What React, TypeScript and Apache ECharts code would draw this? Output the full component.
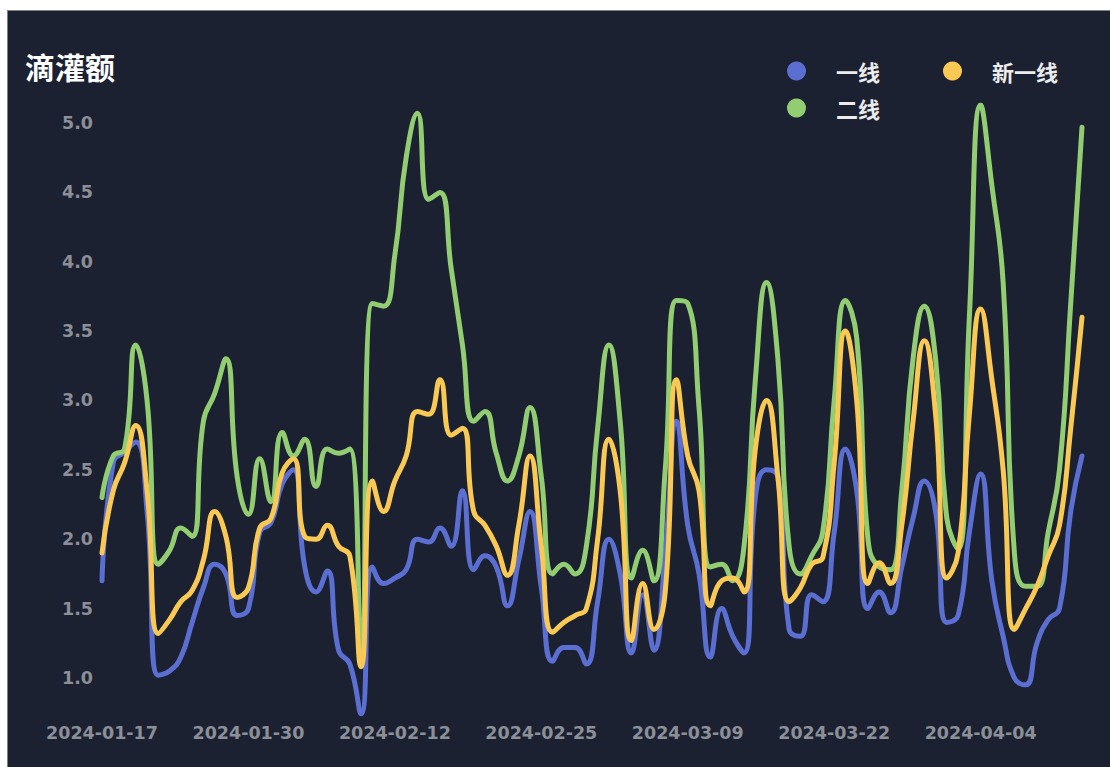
import React, { useEffect, useRef } from "react";
import * as echarts from "echarts";

const dates = [
  "2024-01-17", "2024-01-18", "2024-01-19", "2024-01-20", "2024-01-21", "2024-01-22", "2024-01-23",
  "2024-01-24", "2024-01-25", "2024-01-26", "2024-01-27", "2024-01-28", "2024-01-29", "2024-01-30",
  "2024-01-31", "2024-02-01", "2024-02-02", "2024-02-03", "2024-02-04", "2024-02-05", "2024-02-06",
  "2024-02-07", "2024-02-08", "2024-02-09", "2024-02-10", "2024-02-11", "2024-02-12", "2024-02-13",
  "2024-02-14", "2024-02-15", "2024-02-16", "2024-02-17", "2024-02-18", "2024-02-19", "2024-02-20",
  "2024-02-21", "2024-02-22", "2024-02-23", "2024-02-24", "2024-02-25", "2024-02-26", "2024-02-27",
  "2024-02-28", "2024-02-29", "2024-03-01", "2024-03-02", "2024-03-03", "2024-03-04", "2024-03-05",
  "2024-03-06", "2024-03-07", "2024-03-08", "2024-03-09", "2024-03-10", "2024-03-11", "2024-03-12",
  "2024-03-13", "2024-03-14", "2024-03-15", "2024-03-16", "2024-03-17", "2024-03-18", "2024-03-19",
  "2024-03-20", "2024-03-21", "2024-03-22", "2024-03-23", "2024-03-24", "2024-03-25", "2024-03-26",
  "2024-03-27", "2024-03-28", "2024-03-29", "2024-03-30", "2024-03-31", "2024-04-01", "2024-04-02",
  "2024-04-03", "2024-04-04", "2024-04-05", "2024-04-06", "2024-04-07", "2024-04-08", "2024-04-09",
  "2024-04-10", "2024-04-11", "2024-04-12", "2024-04-13",
];

// 一线
const tier1 = [
  1.7, 2.55, 2.63, 2.7, 2.2, 1.02, 1.05, 1.15, 1.4, 1.65, 1.82, 1.75, 1.45,
  1.5, 2.05, 2.12, 2.4, 2.5, 1.8, 1.62, 1.77, 1.2, 1.1, 0.74, 1.8, 1.68,
  1.72, 1.78, 2.0, 1.98, 2.08, 1.95, 2.35, 1.78, 1.88, 1.8, 1.52, 1.85, 2.2,
  1.65, 1.12, 1.22, 1.22, 1.1, 1.55, 2.0, 1.75, 1.18, 1.6, 1.2, 1.9, 2.85,
  2.1, 1.75, 1.15, 1.5, 1.3, 1.18, 2.3, 2.5, 2.45, 1.35, 1.3, 1.6, 1.55,
  2.05, 2.65, 2.35, 1.5, 1.62, 1.47, 1.8, 2.15, 2.42, 2.2, 1.4, 1.45,
  2.05, 2.47, 1.7, 1.3, 1.0, 0.95, 1.25, 1.42, 1.5, 2.2, 2.6,
];

// 二线
const tier2 = [
  2.3, 2.6, 2.65, 3.4, 3.0, 1.82, 1.92, 2.08, 2.02, 2.85, 3.05, 3.3, 2.45,
  2.18, 2.58, 2.27, 2.77, 2.6, 2.72, 2.38, 2.65, 2.62, 2.65, 1.15, 3.7, 3.68,
  4.05, 4.75, 5.07, 4.45, 4.5, 3.95, 3.4, 2.85, 2.92, 2.62, 2.42, 2.6, 2.95,
  2.45, 1.75, 1.82, 1.75, 1.95, 2.8, 3.4, 2.85, 1.72, 1.92, 1.7, 2.5, 3.72,
  3.7, 2.95, 1.8, 1.82, 1.7, 1.95, 3.15, 3.85, 3.3, 1.95, 1.75, 1.88, 2.06,
  3.0, 3.72, 3.45, 2.0, 1.8, 1.78, 2.35, 3.3, 3.68, 3.3, 2.15, 1.93,
  3.6, 5.13, 4.55, 3.85, 1.9, 1.66, 1.66, 2.05, 2.5, 3.7, 4.97,
];

// 新一线
const tierNew = [
  1.9, 2.35, 2.55, 2.82, 2.35, 1.32, 1.42, 1.55, 1.63, 1.85, 2.2, 2.02, 1.58,
  1.65, 2.08, 2.15, 2.48, 2.58, 2.02, 2.0, 2.1, 1.95, 1.88, 1.08, 2.42, 2.2,
  2.42, 2.6, 2.92, 2.9, 3.15, 2.75, 2.8, 2.2, 2.1, 1.95, 1.74, 2.1, 2.6,
  1.95, 1.33, 1.4, 1.45, 1.5, 2.0, 2.72, 2.35, 1.27, 1.68, 1.35, 1.62, 3.15,
  2.6, 2.35, 1.52, 1.7, 1.72, 1.62, 2.65, 3.0, 2.45, 1.55, 1.65, 1.82, 1.87,
  2.55, 3.5, 3.0, 1.68, 1.83, 1.68, 2.1, 2.85, 3.43, 2.9, 1.72, 1.9,
  2.9, 3.66, 3.15, 2.5, 1.35, 1.5, 1.66, 1.88, 2.1, 2.8, 3.6,
];

const seriesNames = ["一线", "二线", "新一线"];
const seriesColors = ["#5b6fd3", "#92cd72", "#f9c953"];

const axisLabelStyle = {
  color: "#8c8f97",
  fontSize: 17.5,
  fontWeight: "bold" as const,
  fontFamily: "DejaVu Sans",
};

const legendText = {
  color: "#ececec",
  fontSize: 22,
  fontWeight: "bold" as const,
  fontFamily: "Noto Sans CJK SC",
  padding: [0, 0, 0, 25],
};

export default function App() {
  const ref = useRef<HTMLDivElement>(null);

  useEffect(() => {
    if (!ref.current) return;
    const chart = echarts.init(ref.current, null, { renderer: "svg" });
    const values = [tier1, tier2, tierNew];
    chart.setOption({
      animation: false,
      backgroundColor: "#1b2131",
      title: {
        text: "滴灌额",
        left: 12,
        top: 35,
        textStyle: {
          color: "#ffffff",
          fontSize: 30,
          fontWeight: "bold",
          fontFamily: "Noto Sans CJK SC",
        },
      },
      legend: [
        {
          data: ["一线", "二线"],
          orient: "vertical",
          left: 774,
          top: 44,
          itemGap: 15,
          icon: "circle",
          itemWidth: 19,
          itemHeight: 19,
          textStyle: legendText,
        },
        {
          data: ["新一线"],
          orient: "vertical",
          left: 930,
          top: 44,
          itemGap: 15,
          icon: "circle",
          itemWidth: 19,
          itemHeight: 19,
          textStyle: legendText,
        },
      ],
      grid: { left: 94, right: 28, top: 94, bottom: 53 },
      xAxis: {
        type: "category",
        data: dates,
        boundaryGap: false,
        axisLine: { show: false },
        axisTick: { show: false },
        splitLine: { show: false },
        axisLabel: { ...axisLabelStyle, interval: 12, margin: 10 },
      },
      yAxis: {
        type: "value",
        min: "dataMin",
        max: "dataMax",
        splitNumber: 9,
        axisLine: { show: false },
        axisTick: { show: false },
        splitLine: { show: false },
        axisLabel: {
          ...axisLabelStyle,
          margin: 9,
          showMinLabel: false,
          showMaxLabel: false,
          formatter: (v: number) => v.toFixed(1),
        },
      },
      series: seriesNames.map((name, i) => ({
        name,
        type: "line",
        data: values[i],
        smooth: true,
        showSymbol: false,
        symbol: "circle",
        color: seriesColors[i],
        lineStyle: { width: 5, color: seriesColors[i], cap: "round", join: "round" },
      })),
    });
    return () => chart.dispose();
  }, []);

  return (
    <div
      ref={ref}
      style={{
        position: "absolute",
        left: 7,
        top: 10,
        width: 1103,
        height: 757,
        boxSizing: "border-box",
        borderTop: "1px solid #7d8089",
        borderLeft: "1px solid #7d8089",
      }}
    />
  );
}
